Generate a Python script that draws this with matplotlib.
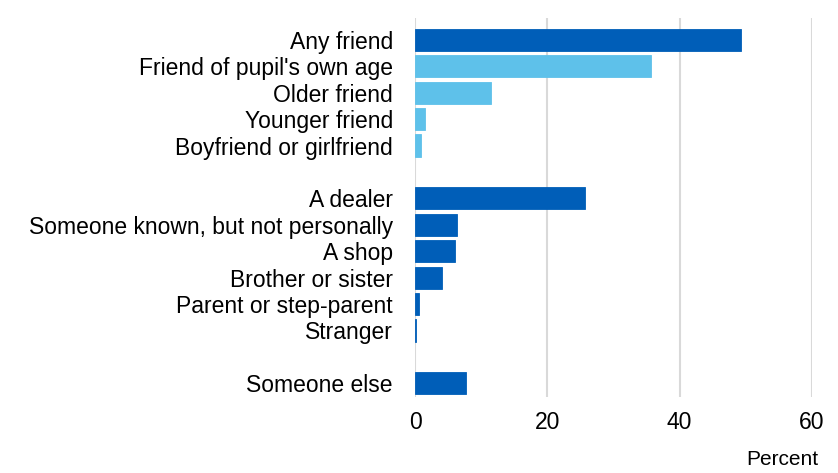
import matplotlib.pyplot as plt

# Sources of drugs (percent of pupils)
labels = ["Any friend", "Friend of pupil's own age", "Older friend", "Younger friend",
          "Boyfriend or girlfriend",
          "A dealer", "Someone known, but not personally", "A shop", "Brother or sister",
          "Parent or step-parent", "Stranger",
          "Someone else"]
values = [49.3, 35.6, 11.5, 1.5, 0.9,
          25.7, 6.35, 6.05, 4.1, 0.55, 0.2,
          7.7]
groups = ["main", "sub", "sub", "sub", "sub",
          "main", "main", "main", "main", "main", "main",
          "main"]
# slot positions, leaving a blank slot between the groups
slots = [0, 1, 2, 3, 4, 6, 7, 8, 9, 10, 11, 13]

colors = {"main": "#005EB8", "sub": "#5EC1EA"}

plt.rcParams['font.family'] = ['Liberation Sans', 'DejaVu Sans']

fig = plt.figure(figsize=(8.38, 4.73), dpi=100)
ax = fig.add_axes([415 / 838, 1 - 397 / 473, (812 - 415) / 838, (397 - 18) / 473])

ax.barh(slots, values, height=0.84, color=[colors[g] for g in groups],
        edgecolor=[colors[g] for g in groups], linewidth=0.6, zorder=3)

ax.set_xlim(0, 60)
ax.set_ylim(13.52, -0.83)
ax.set_xticks([0, 20, 40, 60])
ax.set_yticks(slots)
ax.set_yticklabels(labels)
ax.tick_params(axis='y', length=0, pad=16, labelsize=16.5)
ax.tick_params(axis='x', length=0, pad=10, labelsize=16.5)
ax.grid(axis='x', color='#d9d9d9', linewidth=1.5, zorder=0)
for s in ax.spines.values():
    s.set_visible(False)

fig.text(782 / 838, 1 - 459 / 473, "Percent", ha='center', va='center', fontsize=15)

fig.savefig("out.png", dpi=100)
